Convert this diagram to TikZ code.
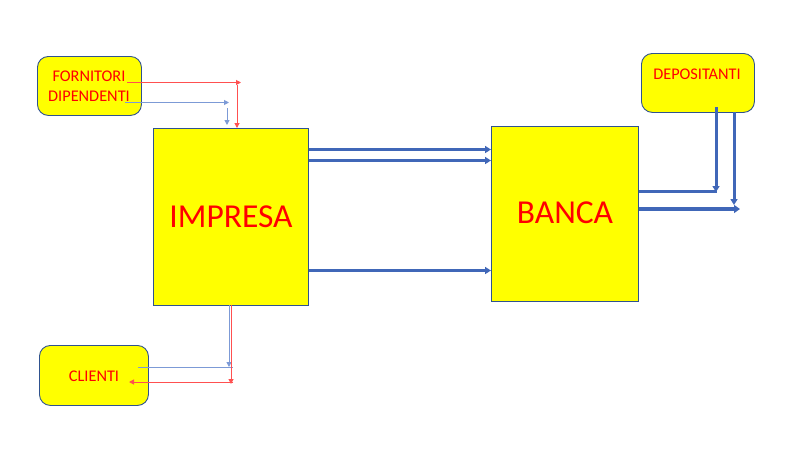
\documentclass[tikz,border=0pt]{standalone}
\usepackage{fontspec}
\setmainfont{Carlito}
\usetikzlibrary{arrows.meta}
\definecolor{edge}{HTML}{2F528F}
\definecolor{fatblue}{HTML}{4067B8}
\definecolor{thinblue}{HTML}{7C9AD6}
\definecolor{thinred}{HTML}{FF5050}
\definecolor{boxyellow}{HTML}{FFFF00}
\definecolor{txtred}{HTML}{FF0000}
\tikzset{
  bigbox/.style={draw=edge, line width=0.9pt, fill=boxyellow, inner sep=0pt},
  bigtext/.style={text=txtred, font=\fontsize{33.5}{36}\selectfont},
  smallbox/.style={draw=edge, line width=0.9pt, fill=boxyellow, rounded corners=11pt, inner sep=0pt},
  smalltext/.style={text=txtred, font=\fontsize{16.3}{19}\selectfont},
  fat/.style={draw=fatblue, line width=3pt, -{Triangle[length=6pt,width=7pt]}},
  fatter/.style={draw=fatblue, line width=4pt, -{Triangle[length=6pt,width=8pt]}},
  fatline/.style={draw=fatblue, line width=3pt},
  thinb/.style={draw=thinblue, line width=1pt, -{Triangle[length=5pt,width=5pt]}},
  thinbl/.style={draw=thinblue, line width=1pt},
  thinr/.style={draw=thinred, line width=1pt, -{Triangle[length=5pt,width=5pt]}},
}
\begin{document}
\begin{tikzpicture}[x=1pt,y=-1pt]
\useasboundingbox (0,0) rectangle (800,450);
% boxes
\node[bigbox, minimum width=155pt, minimum height=177pt, anchor=north west] (imp) at (153,128) {};
\node[bigtext] (impt) at (231,217) {IMPRESA};
\node[bigbox, minimum width=147pt, minimum height=175pt, anchor=north west] (ban) at (491,126) {};
\node[bigtext] (bant) at (565,213) {BANCA};
\node[smallbox, minimum width=104pt, minimum height=59pt, anchor=north west] (fd) at (37,56) {};
\node[smalltext] (fo) at (89,76.5) {FORNITORI};
\node[smalltext] (di) at (89,96.5) {DIPENDENTI};
\node[smallbox, minimum width=109pt, minimum height=60pt, anchor=north west] (cl) at (39,345) {};
\node[smalltext] (clt) at (94,376.5) {CLIENTI};
\node[smallbox, minimum width=113pt, minimum height=59pt, anchor=north west] (dep) at (641,53) {};
\node[smalltext] (dept) at (697,74.5) {DEPOSITANTI};
% coordinates
\coordinate (r1a) at (127,82.5);
\coordinate (r1b) at (241,82.5);
\coordinate (r2a) at (237,85);
\coordinate (b1a) at (125,102.5);
\coordinate (b1b) at (229,102.5);
\coordinate (b2a) at (227,108);
\coordinate (b2b) at (227,125);
\coordinate (cb1) at (229,305);
\coordinate (cb2) at (229,367);
\coordinate (cb3) at (138,367);
\coordinate (cb4) at (233,367);
\coordinate (cr1) at (231,305);
\coordinate (cr2) at (231,384);
\coordinate (cr3) at (233,382);
\coordinate (cr4) at (129,382);
% top-left connectors
\draw[thinr] (r1a) -- (r1b);
\draw[thinr] (r2a) -- (r2a |- imp.north);
\draw[thinb] (b1a) -- (b1b);
\draw[thinb] (b2a) -- (b2b);
% bottom connectors
\draw[thinb] (cb1) -- (cb2);
\draw[thinbl] (cb3) -- (cb4);
\draw[thinr] (cr1) -- (cr2);
\draw[thinr] (cr3) -- (cr4);
% impresa -> banca
\draw[fat] (imp.north east |- 0,149.5) -- (ban.north west |- 0,149.5);
\draw[fat] (imp.north east |- 0,160.5) -- (ban.north west |- 0,160.5);
\draw[fat] (imp.north east |- 0,270.5) -- (ban.north west |- 0,270.5);
% banca / depositanti
\coordinate (d1) at (716,107);
\coordinate (d2) at (716,192);
\coordinate (d3) at (734,112);
\coordinate (d4) at (734,205);
\coordinate (h1) at (717,191.5);
\coordinate (h2) at (740,209);
\draw[fatline] (ban.east |- h1) -- (h1);
\draw[fatter] (ban.east |- h2) -- (h2);
\draw[fat] (d1) -- (d2);
\draw[fat] (d3) -- (d4);
\end{tikzpicture}
\end{document}
